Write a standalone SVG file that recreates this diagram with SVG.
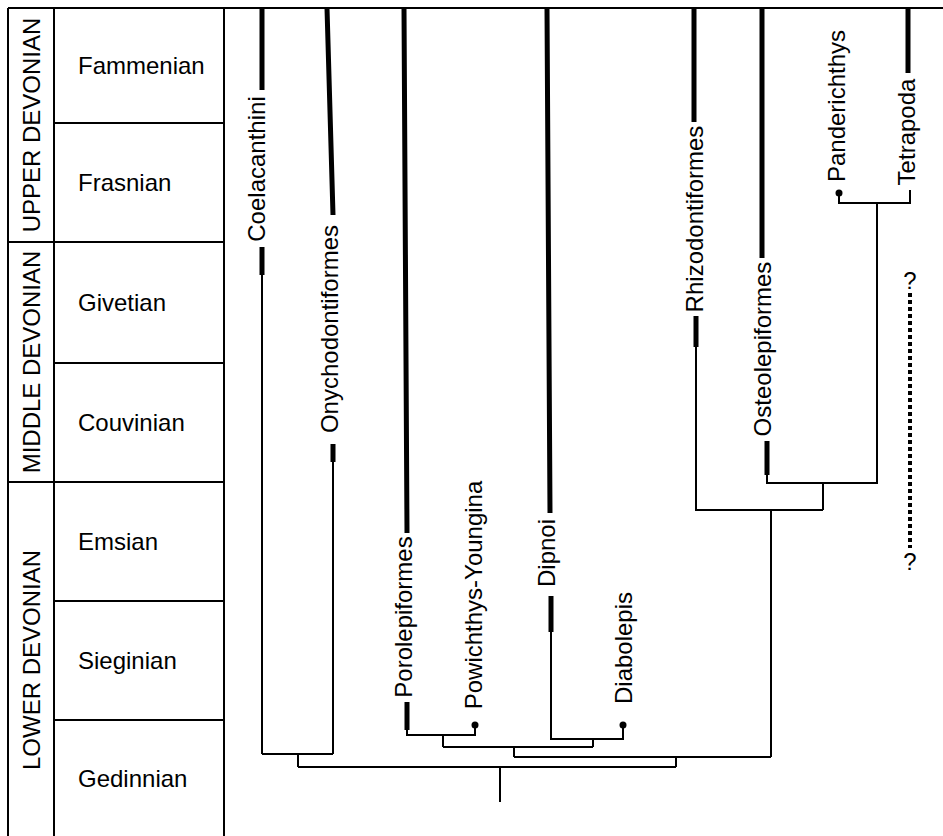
<svg xmlns="http://www.w3.org/2000/svg" width="943" height="836" viewBox="0 0 943 836">
<style>
text{font-family:"Liberation Sans",Arial,sans-serif;font-size:24px;fill:#000}
.frame{stroke:#000;stroke-width:2;fill:none}
.thick{stroke:#000;stroke-width:5;fill:none}
.thin{stroke:#000;stroke-width:2;fill:none}
.dash{stroke:#000;stroke-width:4;stroke-dasharray:4 3;fill:none}
.lbl{text-anchor:middle}
</style>
<rect width="943" height="836" fill="#fff"/>
<g id="timescale">
<path class="frame" d="M8,8H943M8,8V836M54,8V836M224,8V836M54,123H224M8,242H224M54,363H224M8,482H224M54,601H224M54,720H224"/>
<text transform="translate(40,125) rotate(-90)" class="lbl">UPPER DEVONIAN</text>
<text transform="translate(40,362) rotate(-90)" class="lbl">MIDDLE DEVONIAN</text>
<text transform="translate(40,660) rotate(-90)" class="lbl">LOWER DEVONIAN</text>
<text x="78" y="74">Fammenian</text>
<text x="78" y="191">Frasnian</text>
<text x="78" y="311">Givetian</text>
<text x="78" y="431">Couvinian</text>
<text x="78" y="550">Emsian</text>
<text x="78" y="669">Sieginian</text>
<text x="78" y="787">Gedinnian</text>
</g>
<g id="coelacanthini">
<path class="thick" d="M262,8V90M262,247V275"/>
<text transform="translate(265,169) rotate(-90)" class="lbl">Coelacanthini</text>
</g>
<g id="onychodontiformes">
<path class="thick" d="M327,8L333,215M333,444V462"/>
<text transform="translate(338,329) rotate(-90)" class="lbl">Onychodontiformes</text>
</g>
<g id="porolepiformes">
<path class="thick" d="M404,8L407,533M407,702V730"/>
<text transform="translate(412,617) rotate(-90)" class="lbl">Porolepiformes</text>
</g>
<g id="powichthys">
<circle cx="475" cy="725" r="3.5"/>
<text transform="translate(482,595) rotate(-90)" class="lbl">Powichthys-Youngina</text>
</g>
<g id="dipnoi">
<path class="thick" d="M547,8L550,513M551,596V632"/>
<text transform="translate(555,553) rotate(-90)" class="lbl">Dipnoi</text>
</g>
<g id="diabolepis">
<circle cx="623" cy="725" r="3.5"/>
<text transform="translate(632,648) rotate(-90)" class="lbl">Diabolepis</text>
</g>
<g id="rhizodontiformes">
<path class="thick" d="M694,8V122M696,316V347"/>
<text transform="translate(703,219) rotate(-90)" class="lbl">Rhizodontiformes</text>
</g>
<g id="osteolepiformes">
<path class="thick" d="M762,8V258M767,441V475"/>
<text transform="translate(771,349) rotate(-90)" class="lbl">Osteolepiformes</text>
</g>
<g id="panderichthys">
<circle cx="839" cy="193" r="3.5"/>
<text transform="translate(845,106) rotate(-90)" class="lbl">Panderichthys</text>
</g>
<g id="tetrapoda">
<path class="thick" d="M908,8V73"/>
<text transform="translate(915,132) rotate(-90)" class="lbl">Tetrapoda</text>
</g>
<g id="unknown">
<text x="910" y="289" class="lbl">?</text>
<path class="dash" d="M910,293V548"/>
<text x="910" y="570" class="lbl">?</text>
</g>
<g id="connectors">
<path class="thin" d="M262,275V754M333,462V754M262,754H333M298,754V767"/>
<path class="thin" d="M407,730V735H475V725M443,735V747M551,632V739H623V725M593,739V747M443,747H593M514,747V757"/>
<path class="thin" d="M514,757H771M771,510V757M676,757V767M298,767H676M500,767V802"/>
<path class="thin" d="M696,347V510H823M823,483V510M767,475V483H877V203M839,193V203H910V190"/>
</g>
</svg>
